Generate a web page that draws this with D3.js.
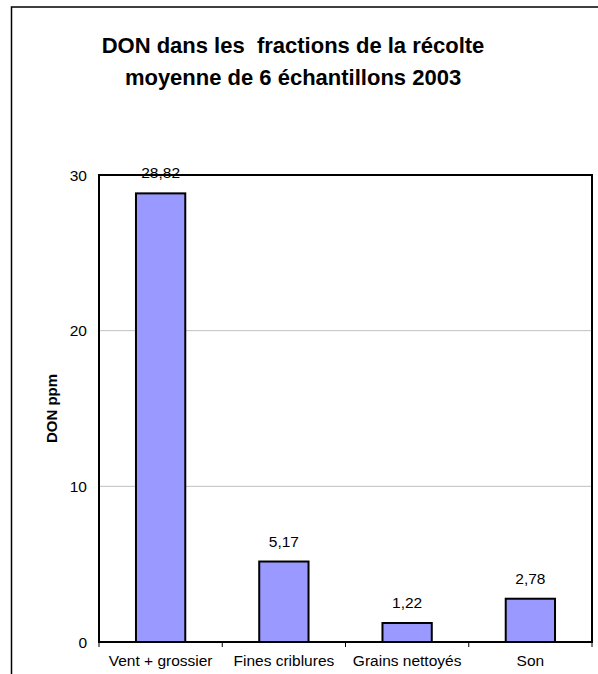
<!DOCTYPE html>
<html>
<head>
<meta charset="utf-8">
<script src="https://cdn.jsdelivr.net/npm/d3@7"></script>
<style>
  body { margin: 0; background: #fff; }
  text { font-family: "Liberation Sans", Arial, sans-serif; }
</style>
</head>
<body>
<script>
const categories = ["Vent + grossier", "Fines criblures", "Grains nettoyés", "Son"];
const values = [28.82, 5.17, 1.22, 2.78];
const yTicks = [0, 10, 20, 30];
const titleLines = ["DON dans les  fractions de la récolte", "moyenne de 6 échantillons 2003"];

const width = 598, height = 674;
const plot = { left: 99, top: 175, right: 592, bottom: 642 };

const svg = d3.select("body").append("svg")
  .attr("width", width)
  .attr("height", height);

// outer chart frame (runs off the page on right and bottom)
svg.append("rect")
  .attr("x", 11.5).attr("y", 7)
  .attr("width", 620).attr("height", 700)
  .attr("fill", "none")
  .attr("stroke", "#000")
  .attr("stroke-width", 1.5);

svg.append("g").selectAll("text")
  .data(titleLines)
  .enter().append("text")
  .attr("x", 293)
  .attr("y", (d, i) => 53 + i * 32)
  .attr("text-anchor", "middle")
  .attr("font-size", 22)
  .attr("font-weight", "bold")
  .style("white-space", "pre")
  .text(d => d);

let x = d3.scaleBand()
  .domain(categories)
  .range([plot.left, plot.right])
  .paddingInner(0.6)
  .paddingOuter(0.3);

let xBand = d3.scaleBand()
  .domain(categories)
  .range([plot.left, plot.right]);

let y = d3.scaleLinear()
  .domain([0, 30])
  .range([plot.bottom, plot.top]);

// gridlines
svg.append("g").selectAll("line")
  .data(yTicks.filter(t => t > 0 && t < 30))
  .enter().append("line")
  .attr("x1", plot.left).attr("x2", plot.right)
  .attr("y1", d => y(d)).attr("y2", d => y(d))
  .attr("stroke", "#c0c0c0")
  .attr("stroke-width", 1);

// y tick labels
svg.append("g").selectAll("text")
  .data(yTicks)
  .enter().append("text")
  .attr("x", plot.left - 12)
  .attr("y", d => y(d) + 5.5)
  .attr("text-anchor", "end")
  .attr("font-size", 15.5)
  .text(d => d);

// bars
svg.append("g").selectAll("rect")
  .data(values)
  .enter().append("rect")
  .attr("x", (d, i) => x(categories[i]))
  .attr("y", d => y(d))
  .attr("width", x.bandwidth())
  .attr("height", d => y(0) - y(d))
  .attr("fill", "#9999ff")
  .attr("stroke", "#000")
  .attr("stroke-width", 2);

// plot frame
svg.append("rect")
  .attr("x", plot.left).attr("y", plot.top)
  .attr("width", plot.right - plot.left)
  .attr("height", plot.bottom - plot.top)
  .attr("fill", "none")
  .attr("stroke", "#000")
  .attr("stroke-width", 2);

// x axis ticks at band boundaries
let boundaries = categories.map(c => xBand(c)).concat([plot.right]);
svg.append("g").selectAll("line")
  .data(boundaries)
  .enter().append("line")
  .attr("x1", d => d).attr("x2", d => d)
  .attr("y1", plot.bottom).attr("y2", plot.bottom + 5)
  .attr("stroke", "#000")
  .attr("stroke-width", 1);

// category labels
svg.append("g").selectAll("text")
  .data(categories)
  .enter().append("text")
  .attr("x", d => xBand(d) + xBand.bandwidth() / 2)
  .attr("y", plot.bottom + 24)
  .attr("text-anchor", "middle")
  .attr("font-size", 15.5)
  .text(d => d);

// value labels
svg.append("g").selectAll("text")
  .data(values)
  .enter().append("text")
  .attr("x", (d, i) => x(categories[i]) + x.bandwidth() / 2)
  .attr("y", d => y(d) - 15)
  .attr("text-anchor", "middle")
  .attr("font-size", 15.5)
  .text(d => d3.format(".2f")(d).replace(".", ","));

// y axis title
svg.append("text")
  .attr("transform", "translate(57," + ((plot.top + plot.bottom) / 2) + ") rotate(-90)")
  .attr("text-anchor", "middle")
  .attr("font-size", 15)
  .attr("font-weight", "bold")
  .text("DON ppm");
</script>
</body>
</html>
